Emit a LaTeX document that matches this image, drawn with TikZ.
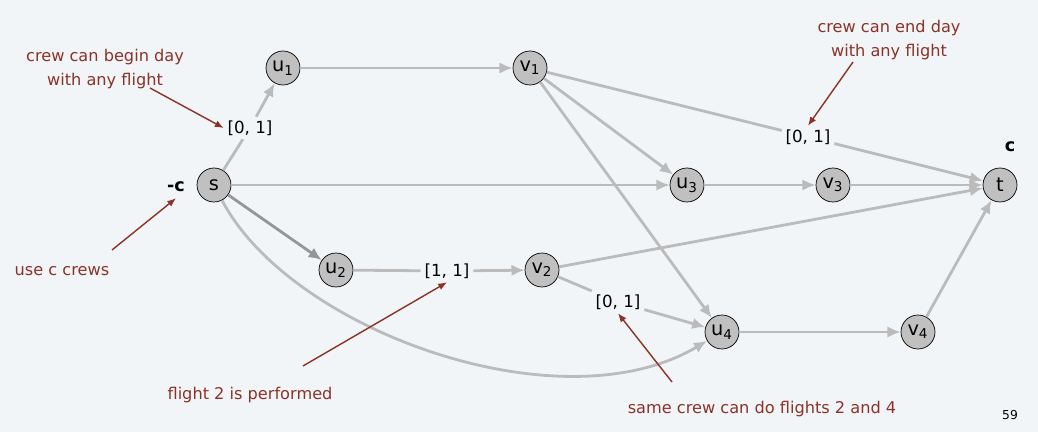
\documentclass[tikz,border=0pt]{standalone}
\usepackage{fontspec}
\setmainfont{DejaVu Sans}
\usepackage{xcolor}
\usetikzlibrary{arrows.meta}
\definecolor{bgpaper}{RGB}{242,245,248}
\definecolor{notered}{RGB}{139,50,40}
\definecolor{edgegray}{RGB}{187,187,187}
\definecolor{darkedge}{RGB}{150,150,150}
\definecolor{vtxfill}{RGB}{192,192,192}
\newcommand{\vsub}[2]{#1\textsubscript{#2}}
\tikzset{
  vtx/.style={draw=black,thin,circle,fill=vtxfill,minimum size=0.68cm,inner sep=0pt,font=\fontsize{11}{12}\selectfont},
  bound/.style={inner sep=2pt,font=\fontsize{9.5}{11}\selectfont},
  flow/.style={draw=edgegray,line width=1.6pt,-{Latex[length=7.5pt,width=6.5pt]}},
  flowplain/.style={draw=edgegray,line width=1.6pt},
  note/.style={text=notered,font=\fontsize{9.2}{14}\selectfont,align=center},
  notearrow/.style={draw=notered,line width=0.8pt,-{Latex[length=5pt,width=4pt]}},
  supply/.style={font=\bfseries\fontsize{10}{12}\selectfont}
}
\begin{document}
\begin{tikzpicture}[x=0.02cm,y=-0.02cm]
\fill[bgpaper] (0,0) rectangle (1038,432);
\useasboundingbox (0,0) rectangle (1038,432);
% vertices
\node[vtx] (s) at (214,185) {s};
\node[vtx] (u1) at (283,68) {\vsub{u}{1}};
\node[vtx] (v1) at (530,68) {\vsub{v}{1}};
\node[vtx] (u3) at (687,185) {\vsub{u}{3}};
\node[vtx] (v3) at (833,185) {\vsub{v}{3}};
\node[vtx] (t) at (1000,185) {t};
\node[vtx] (u2) at (336,270) {\vsub{u}{2}};
\node[vtx] (v2) at (542,270) {\vsub{v}{2}};
\node[vtx] (u4) at (722,332) {\vsub{u}{4}};
\node[vtx] (v4) at (918,332) {\vsub{v}{4}};
% bounds on edges
\node[bound] (b1) at (250,128) {[0, 1]};
\node[bound] (b2) at (808,137) {[0, 1]};
\node[bound] (b3) at (447,271) {[1, 1]};
\node[bound] (b4) at (618,302) {[0, 1]};
\node[supply] (dems) at (176,187) {-c};
\node[supply] (demt) at (1010,147) {c};
% edges
\draw[flowplain] (s) -- (b1);
\draw[flow] (b1) -- (u1);
\draw[flow] (u1) -- (v1);
\draw[flowplain] (v1) -- (b2);
\draw[flow] (b2) -- (t);
\draw[flow] (v1) -- (u3);
\draw[flow] (v1) -- (u4);
\draw[flow] (s) -- (u3);
\draw[flow] (u3) -- (v3);
\draw[flow] (v3) -- (t);
\draw[flow,draw=darkedge] (s) -- (u2);
\draw[flowplain] (u2) -- (b3);
\draw[flow] (b3) -- (v2);
\draw[flow] (v2) -- (t);
\draw[flowplain] (v2) -- (b4);
\draw[flow] (b4) -- (u4);
\draw[flow] (u4) -- (v4);
\draw[flow] (v4) -- (t);
\draw[flow] (s) .. controls (290,330) and (560,428) .. (u4);
% notes
\node[note] (nbegin) at (105,69) {crew can begin day\\with any flight};
\node[note] (nend) at (889,40) {crew can end day\\with any flight};
\node[note] (ncrews) at (62,271) {use c crews};
\node[note] (nflight) at (250,395) {flight 2 is performed};
\node[note] (nsame) at (762,409) {same crew can do flights 2 and 4};
\coordinate (abegin) at (150,88);
\coordinate (aend) at (853,62);
\coordinate (acrews) at (112,250);
\coordinate (aflight) at (303,366);
\coordinate (asame) at (672,382);
\draw[notearrow] (abegin) -- (b1.west);
\draw[notearrow] (aend) -- (b2.north);
\draw[notearrow] (acrews) -- (dems.south);
\draw[notearrow] (aflight) -- (b3.south);
\draw[notearrow] (asame) -- (b4.south);
\node[font=\fontsize{7}{8}\selectfont] (pageno) at (1010,415) {59};
\end{tikzpicture}
\end{document}
